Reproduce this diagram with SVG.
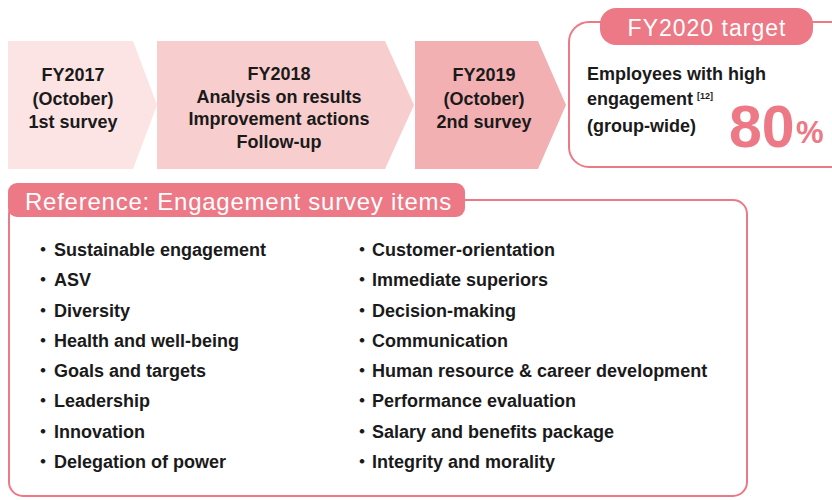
<svg xmlns="http://www.w3.org/2000/svg" width="832" height="500" viewBox="0 0 832 500">
  <style>
    text { font-family: "Liberation Sans", Arial, "Noto Sans CJK JP", sans-serif; fill: #1a1a1a; }
    .step { font-size: 18px; font-weight: bold; text-anchor: middle; }
    .item { font-size: 18px; font-weight: bold; }
    .head { fill: #ffffff; font-weight: normal; }
    .pink { fill: #ec7985; }
    .frame { fill: #ffffff; stroke: #ec7985; stroke-width: 2; }
  </style>
  <rect width="832" height="500" fill="#ffffff"/>

  <!-- timeline chevrons -->
  <g id="step-fy2017">
    <polygon points="8,41 133,41 157,105 133,169 8,169" fill="#fce4e4"/>
    <text class="step" x="73" y="81">FY2017</text>
    <text class="step" x="73" y="105">(October)</text>
    <text class="step" x="73" y="128">1st survey</text>
  </g>
  <g id="step-fy2018">
    <polygon points="157,41 385,41 414,105 385,169 157,169" fill="#f8cdcd"/>
    <text class="step" x="279" y="80">FY2018</text>
    <text class="step" x="279" y="103">Analysis on results</text>
    <text class="step" x="279" y="125">Improvement actions</text>
    <text class="step" x="279" y="148">Follow-up</text>
  </g>
  <g id="step-fy2019">
    <polygon points="415,41 538,41 566,105 538,169 415,169" fill="#f3b0b3"/>
    <text class="step" x="484" y="81">FY2019</text>
    <text class="step" x="484" y="105">(October)</text>
    <text class="step" x="484" y="128">2nd survey</text>
  </g>

  <!-- FY2020 target -->
  <g id="target">
    <rect class="frame" x="569" y="22" width="290" height="145" rx="20"/>
    <rect class="pink" x="600" y="8" width="213" height="37" rx="16"/>
    <text class="head" x="707" y="36" font-size="23" letter-spacing="1" text-anchor="middle">FY2020 target</text>
    <text class="item" x="587" y="80">Employees with high</text>
    <text class="item" x="587" y="105">engagement</text>
    <text x="697" y="99" font-size="9" font-weight="bold">[12]</text>
    <text class="item" x="587" y="132">(group-wide)</text>
    <text class="pink" x="729" y="147" font-size="59" font-weight="bold">80</text>
    <text class="pink" x="796" y="143" font-size="31" font-weight="bold">%</text>
  </g>

  <!-- survey item list -->
  <g id="survey-items">
    <rect class="frame" x="9" y="200" width="738" height="296" rx="14"/>
    <rect class="pink" x="8" y="183" width="457" height="34" rx="9"/>
    <text class="head" x="25" y="210" font-size="24" letter-spacing="0.75">Reference: Engagement survey items</text>
    <g class="item-col">
      <text class="item" y="256"><tspan x="34">・</tspan><tspan x="54">Sustainable engagement</tspan></text>
      <text class="item" y="286"><tspan x="34">・</tspan><tspan x="54">ASV</tspan></text>
      <text class="item" y="317"><tspan x="34">・</tspan><tspan x="54">Diversity</tspan></text>
      <text class="item" y="347"><tspan x="34">・</tspan><tspan x="54">Health and well-being</tspan></text>
      <text class="item" y="377"><tspan x="34">・</tspan><tspan x="54">Goals and targets</tspan></text>
      <text class="item" y="407"><tspan x="34">・</tspan><tspan x="54">Leadership</tspan></text>
      <text class="item" y="438"><tspan x="34">・</tspan><tspan x="54">Innovation</tspan></text>
      <text class="item" y="468"><tspan x="34">・</tspan><tspan x="54">Delegation of power</tspan></text>
    </g>
    <g class="item-col">
      <text class="item" y="256"><tspan x="353">・</tspan><tspan x="372">Customer-orientation</tspan></text>
      <text class="item" y="286"><tspan x="353">・</tspan><tspan x="372">Immediate superiors</tspan></text>
      <text class="item" y="317"><tspan x="353">・</tspan><tspan x="372">Decision-making</tspan></text>
      <text class="item" y="347"><tspan x="353">・</tspan><tspan x="372">Communication</tspan></text>
      <text class="item" y="377"><tspan x="353">・</tspan><tspan x="372">Human resource &amp; career development</tspan></text>
      <text class="item" y="407"><tspan x="353">・</tspan><tspan x="372">Performance evaluation</tspan></text>
      <text class="item" y="438"><tspan x="353">・</tspan><tspan x="372">Salary and benefits package</tspan></text>
      <text class="item" y="468"><tspan x="353">・</tspan><tspan x="372">Integrity and morality</tspan></text>
    </g>
  </g>
</svg>
